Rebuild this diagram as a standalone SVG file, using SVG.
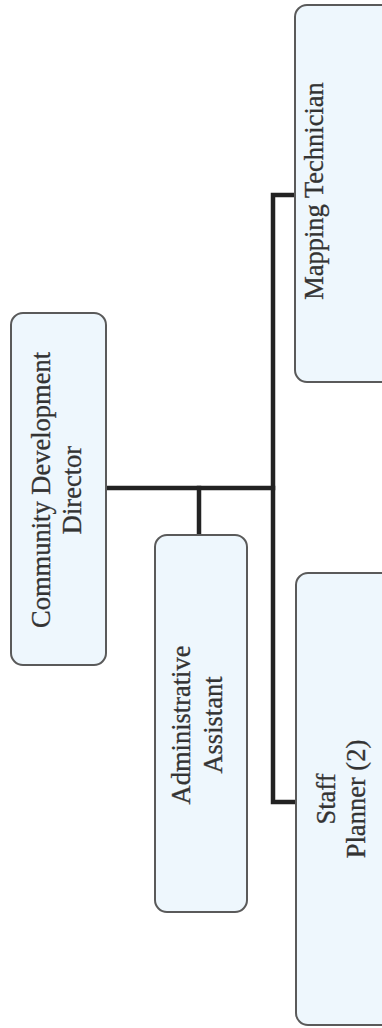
<svg xmlns="http://www.w3.org/2000/svg" width="382" height="1028" viewBox="0 0 382 1028">
  <style>
    .box { fill: #eef7fd; stroke: #5a5a5a; stroke-width: 2; }
    .lbl { font-family: "Liberation Serif", "Times New Roman", serif; font-size: 26.5px; fill: #333333; stroke: #333333; stroke-width: 0.3; text-anchor: middle; }
    .wire { fill: none; stroke: #222222; stroke-width: 4.5; stroke-linejoin: miter; stroke-linecap: square; }
  </style>
  <rect width="382" height="1028" fill="#ffffff"/>

  <!-- reporting lines -->
  <g id="connectors">
    <path class="wire" d="M106 488 H273"/>
    <path class="wire" d="M199 488 V534"/>
    <path class="wire" d="M294 195 H273 V802 H295"/>
  </g>

  <g id="director">
    <rect class="box" x="11" y="313" width="95" height="352" rx="12" ry="12"/>
    <text class="lbl" transform="translate(50 490) rotate(-90)">Community Development</text>
    <text class="lbl" transform="translate(81 490) rotate(-90)">Director</text>
  </g>

  <g id="admin-assistant">
    <rect class="box" x="155" y="535" width="92" height="377" rx="12" ry="12"/>
    <text class="lbl" transform="translate(190 725) rotate(-90)">Administrative</text>
    <text class="lbl" transform="translate(222 725) rotate(-90)">Assistant</text>
  </g>

  <g id="mapping-technician">
    <rect class="box" x="295" y="5" width="100" height="377" rx="12" ry="12"/>
    <text class="lbl" transform="translate(323 191) rotate(-90)">Mapping Technician</text>
  </g>

  <g id="staff-planner">
    <rect class="box" x="296" y="573" width="100" height="452" rx="12" ry="12"/>
    <text class="lbl" transform="translate(335 799) rotate(-90)">Staff</text>
    <text class="lbl" transform="translate(365 799) rotate(-90)">Planner (2)</text>
  </g>
</svg>
